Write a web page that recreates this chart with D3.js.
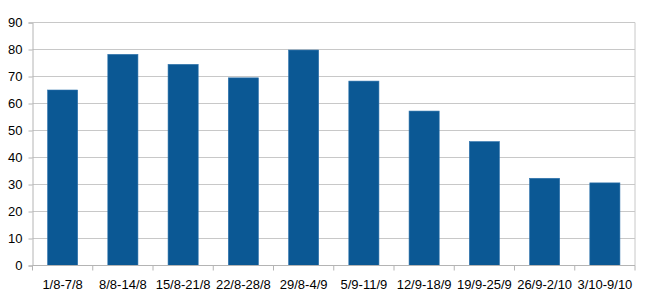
<!DOCTYPE html>
<html>
<head>
<meta charset="utf-8">
<script src="https://cdn.jsdelivr.net/npm/d3@7"></script>
<style>
  body { margin: 0; background: #fff; }
  text { font-family: "Liberation Sans", Arial, sans-serif; font-size: 13px; fill: #000; }
</style>
</head>
<body>
<svg id="chart" width="650" height="303"></svg>
<script>
const categories = ["1/8-7/8", "8/8-14/8", "15/8-21/8", "22/8-28/8", "29/8-4/9",
                    "5/9-11/9", "12/9-18/9", "19/9-25/9", "26/9-2/10", "3/10-9/10"];
const values = [65, 78.2, 74.5, 69.5, 79.8, 68.3, 57.2, 45.9, 32.3, 30.6];
const yTicks = [0, 10, 20, 30, 40, 50, 60, 70, 80, 90];

const margin = { top: 22.5, right: 15, bottom: 37.5, left: 32.5 };
const width = 650, height = 303;
const svg = d3.select("#chart");
const g = svg.append("g").attr("transform", `translate(${margin.left},${margin.top})`);
const w = width - margin.left - margin.right;
const h = height - margin.top - margin.bottom;

const x = d3.scaleBand().domain(categories).range([0, w]).paddingInner(0.5).paddingOuter(0.25);
const y = d3.scaleLinear().domain([0, 90]).range([h, 0]);

// grid
g.selectAll("line.grid")
  .data(yTicks.slice(1))
  .enter().append("line")
  .attr("x1", 0).attr("x2", w)
  .attr("y1", d => y(d)).attr("y2", d => y(d))
  .attr("stroke", "#c8c8c8").attr("stroke-width", 1);
// right border
g.append("line").attr("x1", w).attr("x2", w).attr("y1", 0).attr("y2", h)
  .attr("stroke", "#c8c8c8");

// bars
g.selectAll("rect.bar")
  .data(values)
  .enter().append("rect")
  .attr("x", (d, i) => x(categories[i]))
  .attr("y", d => y(d))
  .attr("width", x.bandwidth())
  .attr("height", d => h - y(d))
  .attr("fill", "#0b5894")
  .attr("stroke", "#2f74ad")
  .attr("stroke-width", 0.6);

// y axis
const yAxis = g.append("g")
  .call(d3.axisLeft(y).tickValues(yTicks).tickSize(4).tickPadding(6));
yAxis.select(".domain").attr("stroke", "#b4b4b4");
yAxis.selectAll(".tick line").attr("stroke", "#b4b4b4");
yAxis.selectAll("text").style("font-size", "13px").attr("fill", "#000");

// x axis: ticks on band boundaries
const xAxis = g.append("g").attr("transform", `translate(0,${h})`);
xAxis.append("line").attr("x1", 0).attr("x2", w).attr("stroke", "#b4b4b4");
const step = x.step();
xAxis.selectAll("line.tk")
  .data(d3.range(categories.length + 1))
  .enter().append("line")
  .attr("x1", i => i * step).attr("x2", i => i * step)
  .attr("y1", 0).attr("y2", 5)
  .attr("stroke", "#b4b4b4");
xAxis.selectAll("text.lbl")
  .data(categories)
  .enter().append("text")
  .attr("x", d => x(d) + x.bandwidth() / 2)
  .attr("y", 23)
  .attr("text-anchor", "middle")
  .text(d => d);
</script>
</body>
</html>
